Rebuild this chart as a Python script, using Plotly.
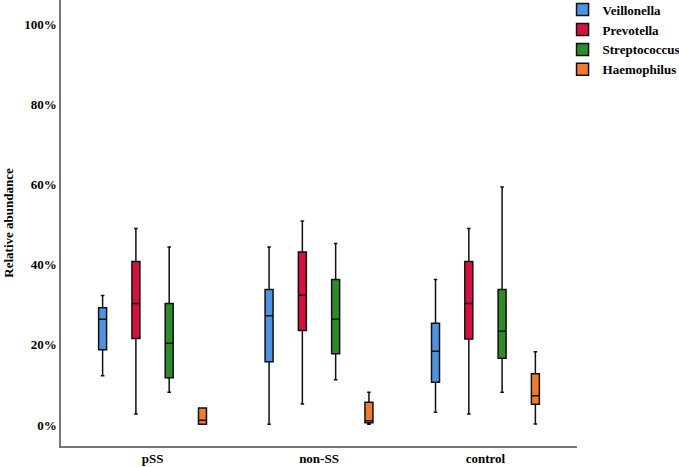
import plotly.graph_objects as go

groups = ["pSS", "non-SS", "control"]
genera = ["Veillonella", "Prevotella", "Streptococcus", "Haemophilus"]
colors = ["#4F93E0", "#D7103F", "#2E8A2A", "#F07A32"]

# five-number summaries per genus, in group order (values in %)
lower = {
    "Veillonella":   [12.3, 0.25, 3.2],
    "Prevotella":    [2.8, 5.3, 2.8],
    "Streptococcus": [8.2, 11.3, 8.2],
    "Haemophilus":   [0.25, 0.25, 0.3],
}
q1 = {
    "Veillonella":   [18.8, 15.8, 10.7],
    "Prevotella":    [21.6, 23.6, 21.5],
    "Streptococcus": [11.8, 17.8, 16.7],
    "Haemophilus":   [0.25, 0.6, 5.2],
}
median = {
    "Veillonella":   [26.4, 27.3, 18.4],
    "Prevotella":    [30.3, 32.4, 30.3],
    "Streptococcus": [20.4, 26.4, 23.4],
    "Haemophilus":   [1.2, 1.1, 7.3],
}
q3 = {
    "Veillonella":   [29.3, 33.8, 25.4],
    "Prevotella":    [40.8, 43.2, 40.8],
    "Streptococcus": [30.3, 36.3, 33.8],
    "Haemophilus":   [4.3, 5.7, 12.8],
}
upper = {
    "Veillonella":   [32.3, 44.4, 36.3],
    "Prevotella":    [49.0, 50.9, 49.0],
    "Streptococcus": [44.4, 45.3, 59.4],
    "Haemophilus":   [4.3, 8.2, 18.3],
}

y_ticks = [0, 20, 40, 60, 80, 100]
y_ticklabels = ["0%", "20%", "40%", "60%", "80%", "100%"]

fig = go.Figure()
for g, c in zip(genera, colors):
    fig.add_trace(go.Box(
        name="<b>" + g + "</b>",
        x=groups,
        q1=q1[g], median=median[g], q3=q3[g],
        lowerfence=lower[g], upperfence=upper[g],
        fillcolor=c,
        line=dict(color="#111111", width=1.5),
        whiskerwidth=0.45,
        boxpoints=False,
        hoverinfo="skip",
    ))

font_family = "Times New Roman, Liberation Serif, DejaVu Serif, serif"
fig.update_layout(
    width=679, height=467,
    margin=dict(l=61, r=102, t=0, b=21, autoexpand=False),
    plot_bgcolor="white", paper_bgcolor="white",
    boxmode="group",
    boxgap=0.2, boxgroupgap=0.76,
    font=dict(family=font_family, color="black", size=13),
    legend=dict(
        x=0.972, y=1.012, xanchor="left", yanchor="top",
        font=dict(family=font_family, size=13, color="black"),
        itemwidth=30, tracegroupgap=0,
        bgcolor="rgba(0,0,0,0)",
    ),
    showlegend=True,
)
fig.update_xaxes(
    type="category", range=[-0.55, 2.55],
    tickvals=groups, ticktext=["<b>" + g + "</b>" for g in groups],
    showline=True, linecolor="#777777", linewidth=1.5,
    showgrid=False, ticks="", zeroline=False,
    tickfont=dict(family=font_family, size=13, color="black"),
)
fig.update_yaxes(
    range=[-5.2, 106],
    tickvals=y_ticks, ticktext=["<b>" + t + "</b>" for t in y_ticklabels],
    showline=True, linecolor="#777777", linewidth=1.5,
    showgrid=False, ticks="", zeroline=False,
    tickfont=dict(family=font_family, size=13, color="black"),
    title=dict(text="<b>Relative abundance</b>", standoff=8,
               font=dict(family=font_family, size=13, color="black")),
)
fig.write_html("out.html", config={"displayModeBar": False},
               post_script="document.body.style.margin='0';")
